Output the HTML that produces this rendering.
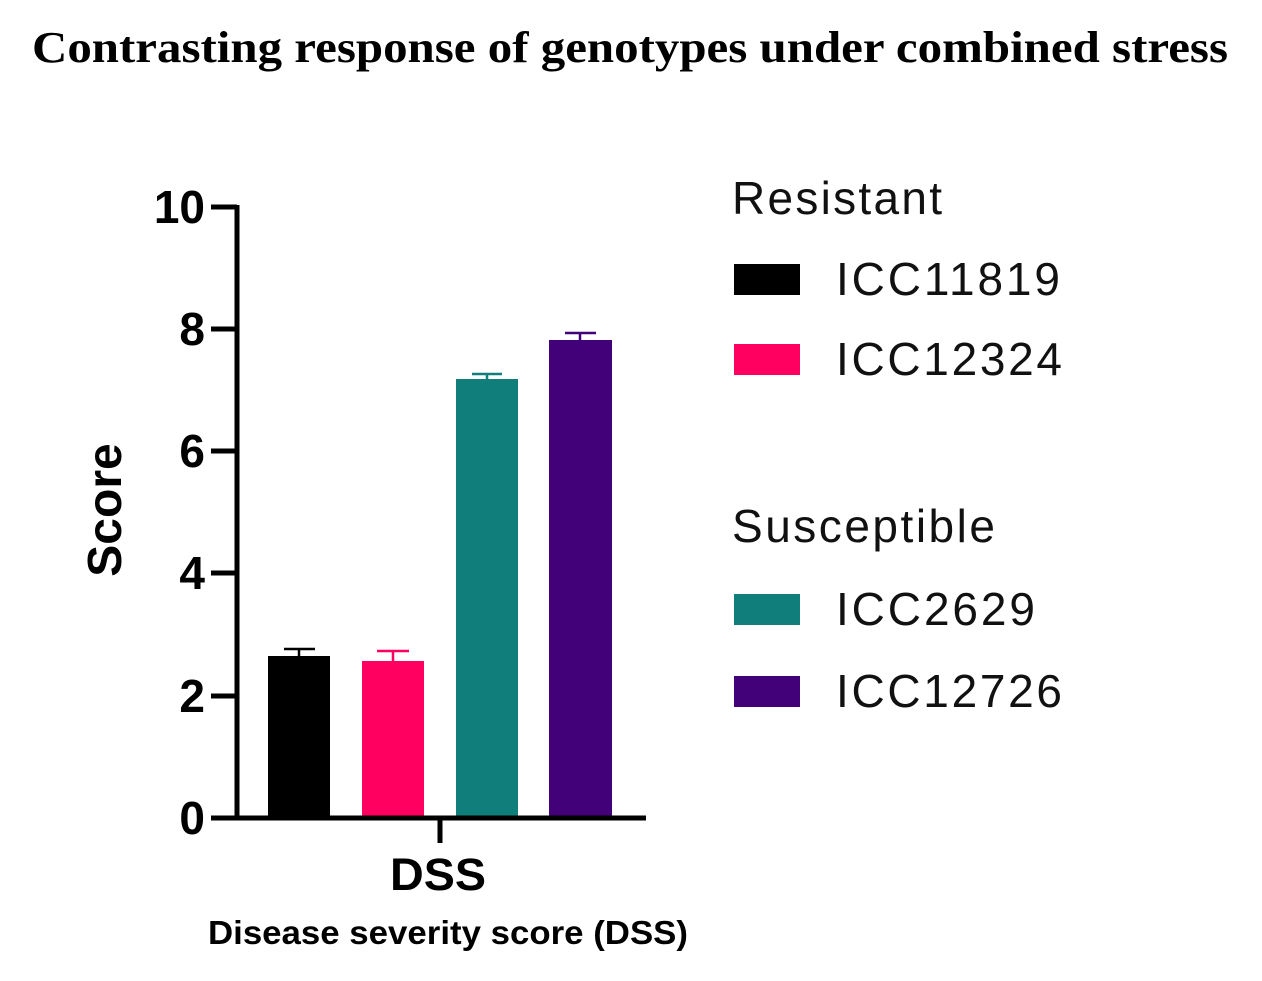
<!DOCTYPE html>
<html><head><style>
html,body{margin:0;padding:0;background:#fff;}
svg{display:block}
</style></head><body>
<svg width="1262" height="981" viewBox="0 0 1262 981" xmlns="http://www.w3.org/2000/svg">
<rect width="1262" height="981" fill="#fff"/>
<text x="32" y="62" textLength="1196" lengthAdjust="spacingAndGlyphs" font-family="Liberation Serif, serif" font-weight="bold" font-size="44">Contrasting  response of genotypes under combined stress</text>
<!-- bars -->
<rect x="268" y="656" width="62" height="162" fill="#000"/>
<rect x="362" y="661" width="62" height="157" fill="#ff0060"/>
<rect x="456" y="379" width="62" height="439" fill="#107f7c"/>
<rect x="549" y="340" width="63" height="478" fill="#420079"/>
<!-- error bars -->
<g stroke-width="2.5">
<path d="M299 656V649M284 649H315" stroke="#000"/>
<path d="M393 661V651M377 651H409" stroke="#ff0060"/>
<path d="M487 379V374M472 374H502" stroke="#107f7c"/>
<path d="M580 340V333M565 333H596" stroke="#420079"/>
</g>
<!-- axes -->
<g stroke="#000" stroke-width="5" fill="none">
<path d="M237 205V820"/>
<path d="M211 818H646"/>
<path d="M211 207H237M211 329H237M211 451H237M211 573H237M211 696H237"/>
<path d="M440 818V843"/>
</g>
<g font-family="Liberation Sans, sans-serif" font-weight="bold" font-size="46" text-anchor="end">
<text x="205" y="223">10</text>
<text x="205" y="345">8</text>
<text x="205" y="467">6</text>
<text x="205" y="589">4</text>
<text x="205" y="712">2</text>
<text x="205" y="834">0</text>
</g>
<text transform="translate(121,510) rotate(-90)" text-anchor="middle" font-family="Liberation Sans, sans-serif" font-weight="bold" font-size="48">Score</text>
<text x="390" y="890" textLength="96" lengthAdjust="spacingAndGlyphs" font-family="Liberation Sans, sans-serif" font-weight="bold" font-size="45">DSS</text>
<text x="208" y="944" textLength="480" lengthAdjust="spacingAndGlyphs" font-family="Liberation Sans, sans-serif" font-weight="bold" font-size="33">Disease severity score (DSS)</text>
<!-- legend -->
<g font-family="Liberation Sans, sans-serif" font-size="46" fill="#111" lengthAdjust="spacingAndGlyphs">
<text x="732" y="214" textLength="210">Resistant</text>
<rect x="734" y="264" width="66" height="31" fill="#000"/>
<text x="836" y="295" textLength="224">ICC11819</text>
<rect x="734" y="344" width="66" height="31" fill="#ff0060"/>
<text x="836" y="375" textLength="226">ICC12324</text>
<text x="732" y="542" textLength="263">Susceptible</text>
<rect x="734" y="594" width="66" height="31" fill="#107f7c"/>
<text x="836" y="625" textLength="199">ICC2629</text>
<rect x="734" y="676" width="66" height="31" fill="#420079"/>
<text x="836" y="707" textLength="226">ICC12726</text>
</g>
</svg>
</body></html>
